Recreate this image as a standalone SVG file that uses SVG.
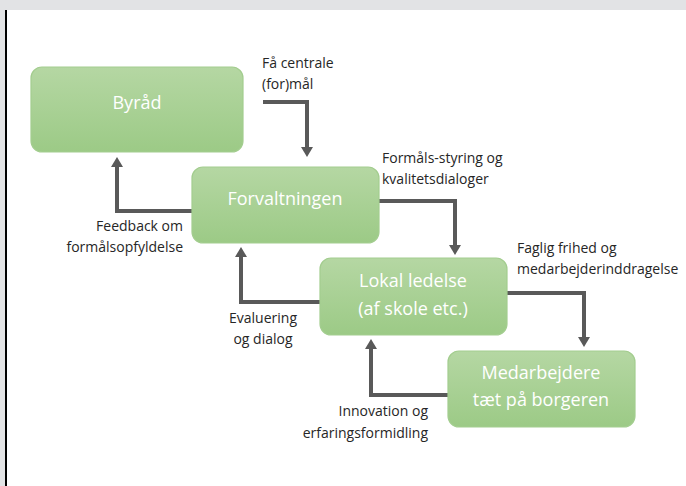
<svg xmlns="http://www.w3.org/2000/svg" width="686" height="486" viewBox="0 0 686 486">
<style>
.box{fill:url(#g);stroke:#a3cd8f;stroke-width:1.2}
.bt{font-family:"Open Sans","Noto Sans",sans-serif;font-size:18px;fill:#ffffff;text-anchor:middle}
.lb{font-family:"Open Sans","Noto Sans",sans-serif;font-size:14px;fill:#262626}
.ar{fill:none;stroke:#595959;stroke-width:4;marker-end:url(#ah)}
</style>
<defs>
<linearGradient id="g" x1="0" y1="0" x2="0" y2="1">
<stop offset="0" stop-color="#b5d7a3"/>
<stop offset="1" stop-color="#9cca86"/>
</linearGradient>
<marker id="ah" markerUnits="userSpaceOnUse" viewBox="0 -6 10 12" refX="0" refY="0" markerWidth="10" markerHeight="12" orient="auto">
<path d="M0,-6 L10,0 L0,6 Z" fill="#595959"/>
</marker>
</defs>
<rect x="0" y="0" width="686" height="486" fill="#ffffff"/>
<rect x="0" y="0" width="686" height="10" fill="#e2e3e5"/>
<rect x="0" y="10" width="5" height="476" fill="#e2e3e5"/>
<rect x="5" y="10" width="2" height="476" fill="#000000"/>
<g id="connectors">
<path class="ar" d="M263,102 H307 V147"/>
<path class="ar" d="M192,211 H117 V167"/>
<path class="ar" d="M379,201 H455 V245"/>
<path class="ar" d="M320,302 H241 V257"/>
<path class="ar" d="M507,293 H584 V337"/>
<path class="ar" d="M448,395 H371 V349"/>
</g>
<g id="byraad">
<rect class="box" x="31" y="67" width="212" height="85" rx="11"/>
<text class="bt" x="137" y="109">Byråd</text>
</g>
<g id="forvaltningen">
<rect class="box" x="192" y="167" width="187" height="76" rx="11"/>
<text class="bt" x="285" y="205">Forvaltningen</text>
</g>
<g id="lokal">
<rect class="box" x="320" y="258" width="187" height="77" rx="11"/>
<text class="bt" x="413" y="287">Lokal ledelse</text>
<text class="bt" x="413" y="315">(af skole etc.)</text>
</g>
<g id="medarbejdere">
<rect class="box" x="448" y="351" width="187" height="76" rx="11"/>
<text class="bt" x="541" y="379">Medarbejdere</text>
<text class="bt" x="541" y="406">tæt på borgeren</text>
</g>
<g id="labels">
<text class="lb" x="262" y="68">Få centrale</text>
<text class="lb" x="262" y="89">(for)mål</text>
<text class="lb" x="183" y="231" text-anchor="end">Feedback om</text>
<text class="lb" x="183" y="252" text-anchor="end">formålsopfyldelse</text>
<text class="lb" x="382" y="163">Formåls-styring og</text>
<text class="lb" x="382" y="184">kvalitetsdialoger</text>
<text class="lb" x="517" y="253">Faglig frihed og</text>
<text class="lb" x="517" y="274">medarbejderinddragelse</text>
<text class="lb" x="263" y="323" text-anchor="middle">Evaluering</text>
<text class="lb" x="263" y="344" text-anchor="middle">og dialog</text>
<text class="lb" x="428" y="416" text-anchor="end">Innovation og</text>
<text class="lb" x="428" y="438" text-anchor="end">erfaringsformidling</text>
</g>
</svg>
